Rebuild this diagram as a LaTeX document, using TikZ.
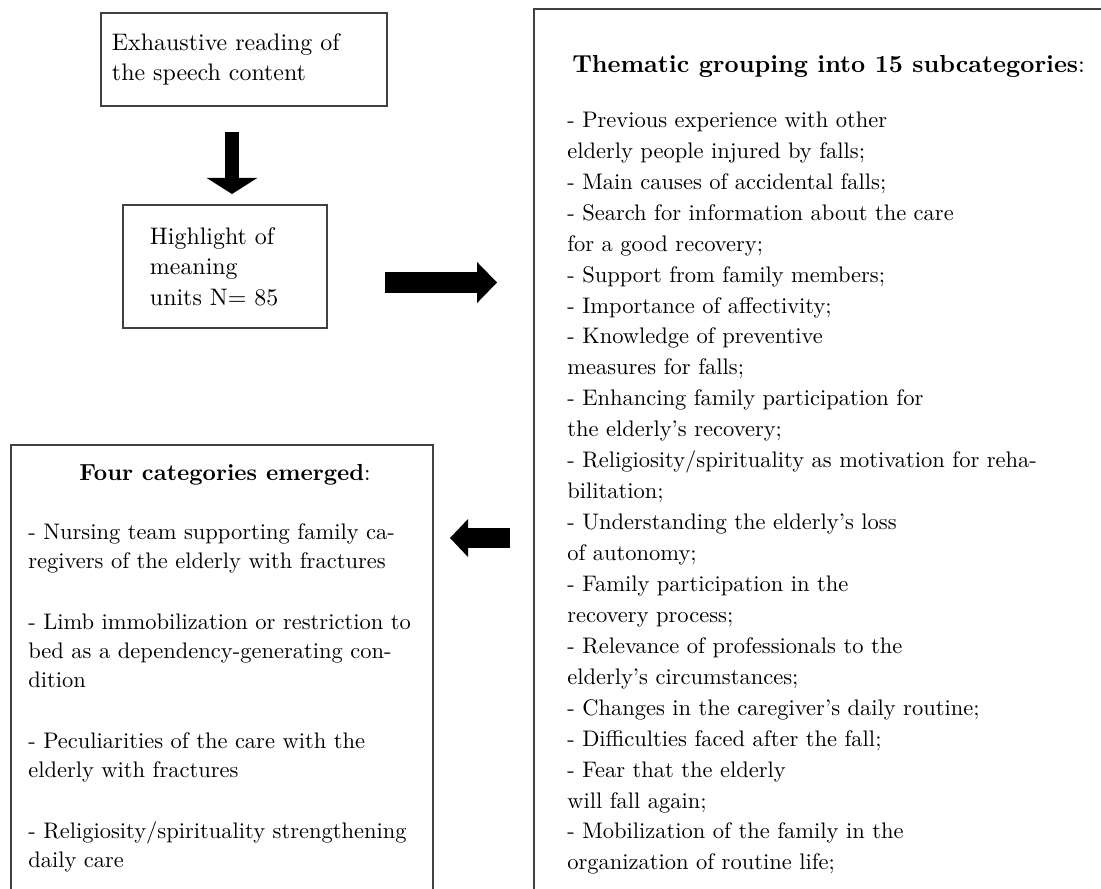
\documentclass[tikz,border=0pt]{standalone}
\usepackage{fontspec}
\setmainfont{lmroman10-regular.otf}[BoldFont=lmroman10-bold.otf]
\usetikzlibrary{arrows.meta}
\tikzset{
  box/.style={draw=black!75, line width=1.1pt, inner sep=0pt},
  bigarrow/.style n args={3}{line width=#1, -{Triangle[width=#2, length=#3, line width=0pt]}},
  smalltxt/.style={align=left, font=\fontsize{17}{21.6}\selectfont},
  listtxt/.style={inner sep=0pt, align=left, anchor=north west},
}
\begin{document}
\begin{tikzpicture}[x=0.025cm, y=-0.025cm]
\useasboundingbox (0,0) rectangle (1101,889);
\clip (0,0) rectangle (1101,889);
% the two first steps
\node[box, smalltxt, minimum height=2.325cm, text width=6.6cm, inner xsep=0.275cm] (read) at (244,59.5) {Exhaustive reading of\\the speech content};
\node[box, smalltxt, minimum height=3.075cm, text width=3.75cm, inner xsep=0.675cm] (units) at (225,266.5) {Highlight of\\meaning\\units N= 85};
% subcategories
\node[box, anchor=north west, minimum width=15cm, minimum height=23cm] (subbox) at (533,8) {};
\node[anchor=base west, inner sep=0pt, font=\fontsize{17.5}{20}\selectfont] (subtitle) at (572,72) {\textbf{Thematic grouping into 15 subcategories}:};
\node[listtxt, font=\fontsize{16}{22}\selectfont] (sublist) at (567,111.5) {- Previous experience with other\\
elderly people injured by falls;\\
- Main causes of accidental falls;\\
- Search for information about the care\\
for a good recovery;\\
- Support from family members;\\
- Importance of affectivity;\\
- Knowledge of preventive\\
measures for falls;\\
- Enhancing family participation for\\
the elderly's recovery;\\
- Religiosity/spirituality as motivation for reha-\\
bilitation;\\
- Understanding the elderly's loss\\
of autonomy;\\
- Family participation in the\\
recovery process;\\
- Relevance of professionals to the\\
elderly's circumstances;\\
- Changes in the caregiver's daily routine;\\
- Difficulties faced after the fall;\\
- Fear that the elderly\\
will fall again;\\
- Mobilization of the family in the\\
organization of routine life;};
% categories
\node[box, anchor=north west, minimum width=10.55cm, minimum height=12cm] (catbox) at (10,444) {};
\node[anchor=base, inner sep=0pt, font=\fontsize{16.5}{20}\selectfont] (cattitle) at (225,480) {\textbf{Four categories emerged}:};
\node[listtxt, font=\fontsize{16}{20.6}\selectfont] (catlist) at (28,523.4) {- Nursing team supporting family ca-\\
regivers of the elderly with fractures\\[22.8pt]
- Limb immobilization or restriction to\\
bed as a dependency-generating con-\\
dition\\[22.8pt]
- Peculiarities of the care with the\\
elderly with fractures\\[22.8pt]
- Religiosity/spirituality strengthening\\
daily care};
% arrows
\coordinate (down0) at (232,132);
\coordinate (down1) at (232,194);
\coordinate (right0) at (385,282.5);
\coordinate (right1) at (497,282.5);
\coordinate (left0) at (510,538);
\coordinate (left1) at (450,538);
\draw[bigarrow={10pt}{36pt}{11.4pt}] (down0) -- (down1);
\draw[bigarrow={14.9pt}{29.2pt}{14.2pt}] (right0) -- (right1);
\draw[bigarrow={14.2pt}{27pt}{12.8pt}] (left0) -- (left1);
\end{tikzpicture}
\end{document}
